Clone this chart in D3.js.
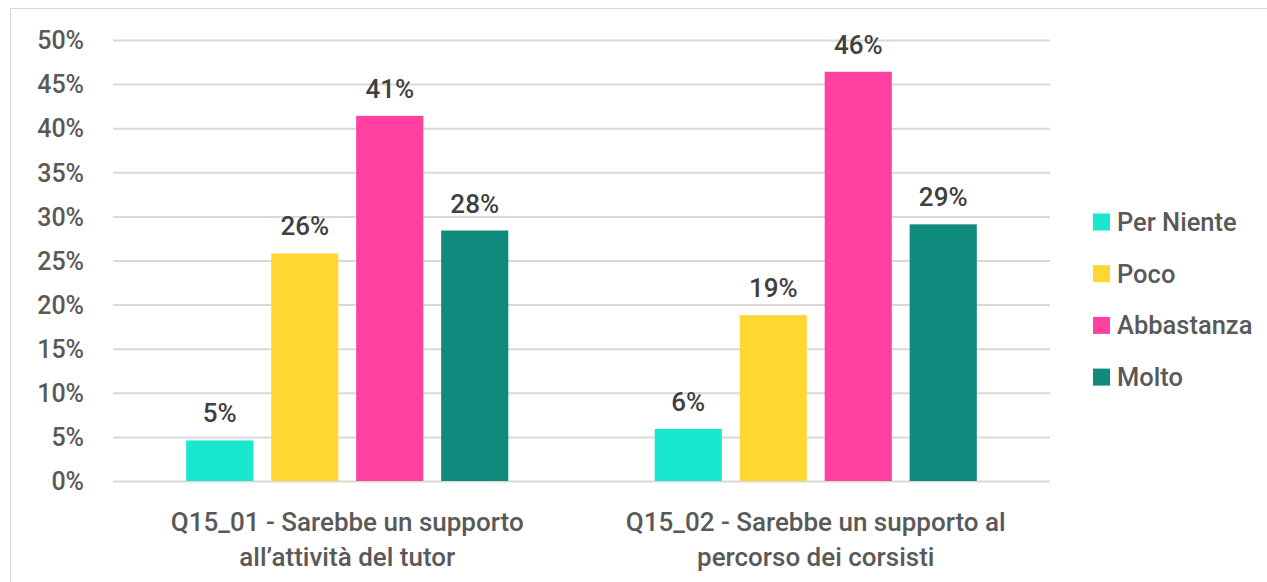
<!DOCTYPE html>
<html>
<head>
<meta charset="utf-8">
<script src="https://cdn.jsdelivr.net/npm/d3@7"></script>
<style>
  html, body { margin: 0; padding: 0; background: #fff; }
  svg { display: block; font-family: Roboto, "Noto Sans", sans-serif; }
</style>
</head>
<body>
<svg id="chart" width="1267" height="582"></svg>
<script>
// Survey answers (share of respondents, %)
const categories = [
  ["Q15_01 - Sarebbe un supporto", "all\u2019attività del tutor"],
  ["Q15_02 - Sarebbe un supporto al", "percorso dei corsisti"]
];
const categoryKeys = ["Q15_01", "Q15_02"];
const seriesNames = ["Per Niente", "Poco", "Abbastanza", "Molto"];
const seriesColors = ["#19E8D0", "#FED733", "#FF409F", "#0F8A7C"];
const q15_01 = [4.6, 25.8, 41.4, 28.4];
const q15_02 = [5.9, 18.8, 46.4, 29.1];
const yTicks = [0, 5, 10, 15, 20, 25, 30, 35, 40, 45, 50];

const values = [q15_01, q15_02];
const svg = d3.select("#chart");

// outer frame
svg.append("rect")
  .attr("x", 10.5).attr("y", 8.5)
  .attr("width", 1270).attr("height", 600)
  .attr("fill", "none").attr("stroke", "#d9d9d9").attr("stroke-width", 1);

const plot = { left: 113, right: 1050, top: 40, bottom: 481 };

const y = d3.scaleLinear().domain([0, 50]).range([plot.bottom, plot.top]);
const x0 = d3.scaleBand().domain(categoryKeys)
  .range([plot.left, plot.right])
  .paddingInner(0.2744).paddingOuter(0.1372);
const x1 = d3.scaleBand().domain(seriesNames)
  .range([0, x0.bandwidth()])
  .paddingInner(0.21).paddingOuter(0.105);
const color = d3.scaleOrdinal().domain(seriesNames).range(seriesColors);

// gridlines + y labels
const yAxis = d3.axisLeft(y).tickValues(yTicks)
  .tickSize(-(plot.right - plot.left))
  .tickPadding(29)
  .tickFormat(d => d + "%");
const gy = svg.append("g").attr("transform", `translate(${plot.left},0)`).call(yAxis)
  .attr("font-family", null).attr("font-size", null);
gy.select(".domain").remove();
gy.selectAll(".tick line").attr("stroke", "#d9d9d9").attr("stroke-width", 2);
gy.selectAll(".tick text")
  .attr("fill", "#595959").attr("font-size", 25).attr("font-weight", 500)
  .attr("dy", "0.35em");

// bars
const groups = svg.append("g").selectAll("g")
  .data(categoryKeys)
  .join("g")
  .attr("transform", d => `translate(${x0(d)},0)`);

groups.selectAll("rect")
  .data((d, i) => seriesNames.map((s, j) => ({ s, v: values[i][j] })))
  .join("rect")
  .attr("x", d => x1(d.s))
  .attr("width", x1.bandwidth())
  .attr("y", d => y(d.v))
  .attr("height", d => y(0) - y(d.v))
  .attr("fill", d => color(d.s));

groups.selectAll("text.val")
  .data((d, i) => seriesNames.map((s, j) => ({ s, v: values[i][j] })))
  .join("text")
  .attr("class", "val")
  .attr("x", d => x1(d.s) + x1.bandwidth() / 2)
  .attr("y", d => y(d.v) - 18)
  .attr("text-anchor", "middle")
  .attr("fill", "#404040")
  .attr("font-size", 26)
  .attr("font-weight", 500)
  .text(d => Math.round(d.v) + "%");

// category labels
categoryKeys.forEach((k, i) => {
  const t = svg.append("text")
    .attr("x", x0(k) + x0.bandwidth() / 2)
    .attr("y", 531)
    .attr("text-anchor", "middle")
    .attr("fill", "#595959")
    .attr("font-size", 26)
    .attr("font-weight", 500);
  categories[i].forEach((line, li) => {
    t.append("tspan")
      .attr("x", x0(k) + x0.bandwidth() / 2)
      .attr("dy", li === 0 ? 0 : 35)
      .text(line);
  });
});

// legend
const legend = svg.append("g").selectAll("g")
  .data(seriesNames)
  .join("g")
  .attr("transform", (d, i) => `translate(1093,${222 + i * 51.7})`);
legend.append("rect")
  .attr("x", 0).attr("y", -8.5)
  .attr("width", 17).attr("height", 17)
  .attr("fill", d => color(d));
legend.append("text")
  .attr("x", 24).attr("dy", "0.35em")
  .attr("fill", "#595959")
  .attr("font-size", 25.5)
  .attr("font-weight", 500)
  .text(d => d);
</script>
</body>
</html>
